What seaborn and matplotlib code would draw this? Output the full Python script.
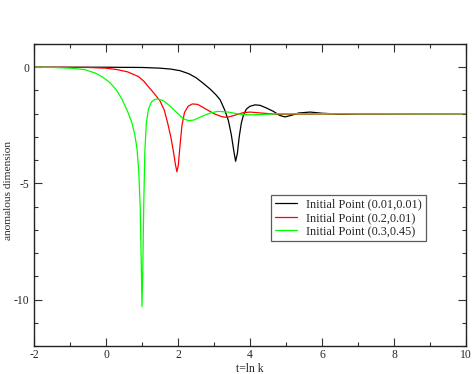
import matplotlib
matplotlib.use("Agg")
import matplotlib.pyplot as plt
from matplotlib.ticker import MultipleLocator
import seaborn as sns
import pandas as pd

sns.set_style("ticks")
plt.rcParams['font.family'] = ['Liberation Serif', 'DejaVu Serif']
plt.rcParams['axes.unicode_minus'] = False

# values
black_x = [-2, 0, 1.0, 1.5, 1.8, 2.06, 2.3, 2.5, 2.7, 2.9, 3.05, 3.17, 3.3, 3.4,
           3.48, 3.55, 3.6, 3.65, 3.7, 3.76, 3.82, 3.9, 4.0, 4.14, 4.28, 4.45,
           4.65, 4.82, 4.97, 5.15, 5.35, 5.67, 6.0, 6.5, 7.0, 10]
black_y = [0, 0, -0.01, -0.04, -0.08, -0.15, -0.28, -0.45, -0.69, -0.95, -1.18,
           -1.4, -1.85, -2.3, -2.9, -3.6, -4.05, -3.7, -3.0, -2.4, -2.05, -1.8,
           -1.68, -1.62, -1.64, -1.75, -1.9, -2.07, -2.14, -2.07, -1.97, -1.93,
           -1.98, -2.02, -2.0, -2.0]

red_x = [-2, -0.5, 0.0, 0.3, 0.6, 0.9, 1.05, 1.2, 1.35, 1.5, 1.62, 1.72, 1.8,
         1.87, 1.93, 1.97, 2.01, 2.06, 2.11, 2.18, 2.28, 2.4, 2.55, 2.75, 3.0,
         3.2, 3.35, 3.55, 3.8, 4.0, 4.3, 4.7, 5.2, 10]
red_y = [0, -0.01, -0.04, -0.1, -0.2, -0.4, -0.6, -0.88, -1.15, -1.45, -1.85,
         -2.45, -3.0, -3.6, -4.2, -4.5, -4.2, -3.3, -2.5, -1.95, -1.68, -1.58,
         -1.6, -1.78, -2.0, -2.12, -2.16, -2.08, -1.96, -1.93, -1.97, -2.02,
         -2.02, -2.0]

green_x = [-2.0, -1.5, -1.0, -0.6, -0.3, -0.1, 0.1, 0.3, 0.45, 0.6, 0.72, 0.8,
           0.86, 0.91, 0.95, 0.98, 1.0, 1.02, 1.05, 1.08, 1.12, 1.18, 1.26,
           1.36, 1.45, 1.6, 1.8, 2.0, 2.15, 2.3, 2.45, 2.65, 2.9, 3.1, 3.4,
           3.7, 4.0, 4.4, 4.8, 10]
green_y = [0.0, -0.01, -0.04, -0.1, -0.25, -0.42, -0.65, -1.0, -1.4, -1.9,
           -2.4, -2.9, -3.5, -4.5, -6.0, -8.5, -10.3, -8.8, -5.8, -3.6, -2.4,
           -1.8, -1.5, -1.38, -1.37, -1.45, -1.7, -2.0, -2.22, -2.3, -2.27,
           -2.12, -1.97, -1.9, -1.93, -2.02, -2.05, -2.03, -2.0, -2.0]

labels = ["Initial Point (0.01,0.01)", "Initial Point (0.2,0.01)",
          "Initial Point (0.3,0.45)"]
colors = ["#000000", "#ff0000", "#00ff00"]

frames = []
for xs, ys, lab in zip([black_x, red_x, green_x], [black_y, red_y, green_y], labels):
    frames.append(pd.DataFrame({"t": xs, "y": ys, "series": lab}))
df = pd.concat(frames, ignore_index=True)

fig = plt.figure(figsize=(4.74, 3.74), dpi=100)
ax = fig.add_axes([34 / 474, 28 / 374, 432 / 474, 302 / 374])

sns.lineplot(data=df, x="t", y="y", hue="series", palette=colors,
             sort=False, estimator=None, linewidth=0.9, ax=ax)

ax.set_xlim(-2, 10)
ax.set_ylim(-12, 1)
ax.xaxis.set_major_locator(MultipleLocator(2))
ax.xaxis.set_minor_locator(MultipleLocator(1))
ax.yaxis.set_major_locator(MultipleLocator(5))
ax.yaxis.set_minor_locator(MultipleLocator(1))
ax.tick_params(which="both", direction="in", top=True, right=True,
               labelsize=8.4, width=0.8, color="#333333")
ax.tick_params(which="major", length=6, pad=3.5)
ax.tick_params(axis="x", which="major", pad=2.5)
ax.tick_params(which="minor", length=3)
for s in ax.spines.values():
    s.set_linewidth(1.0)
    s.set_color("#222222")

ax.set_xlabel("t=ln k", fontsize=8.4)
ax.set_ylabel("anomalous dimension", fontsize=8.2)
ax.xaxis.set_label_coords(0.5, -(363.5 - 346) / 302)
ax.yaxis.set_label_coords((13.5 - 34) / 432, (346 - 190) / 302)

leg = ax.legend(loc="upper left", bbox_to_anchor=(237 / 432, (346 - 195) / 302),
                fontsize=8.8, frameon=True, fancybox=False, edgecolor="#333333",
                handlelength=1.8, borderpad=0.3, labelspacing=0.1,
                handletextpad=0.8, borderaxespad=0)
leg.get_frame().set_linewidth(0.9)

fig.savefig("out.png", dpi=100)
